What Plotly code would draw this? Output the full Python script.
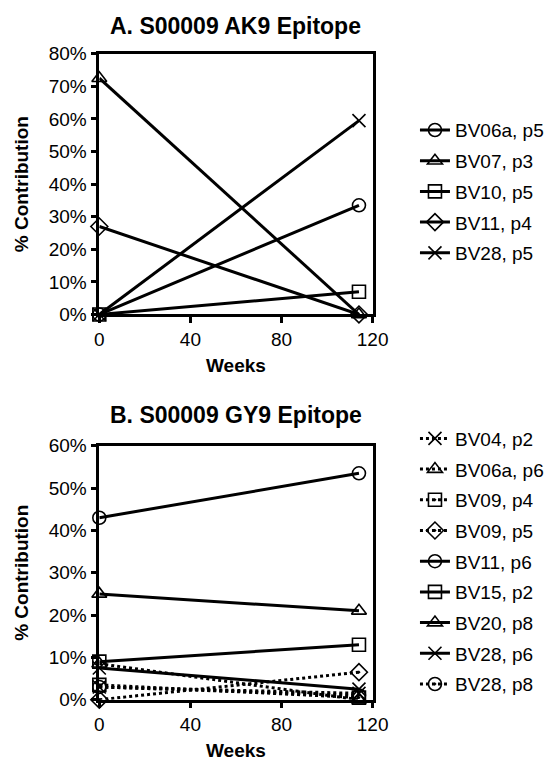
import plotly.graph_objects as go

weeks = [0, 114]

# Panel A: S00009 AK9 Epitope (% contribution)
a_names = ["BV06a, p5", "BV07, p3", "BV10, p5", "BV11, p4", "BV28, p5"]
a_values = [
    [0, 33.5],
    [72.5, 0],
    [0, 7],
    [27, 0],
    [0, 59.5],
]
a_symbols = ["circle-open", "triangle-up-open", "square-open", "diamond-open", "x-thin-open"]
a_dash = ["solid", "solid", "solid", "solid", "solid"]

# Panel B: S00009 GY9 Epitope (% contribution)
b_names = ["BV04, p2", "BV06a, p6", "BV09, p4", "BV09, p5", "BV11, p6",
           "BV15, p2", "BV20, p8", "BV28, p6", "BV28, p8"]
b_values = [
    [3, 1.5],
    [8.5, 0],
    [3.5, 0.5],
    [0, 6.5],
    [43, 53.5],
    [9, 13],
    [25, 21],
    [7.5, 2.5],
    [3, 1],
]
b_symbols = ["x-thin-open", "triangle-up-open", "square-open-dot", "diamond-open-dot", "circle-open",
             "square-open", "triangle-up-open", "x-thin-open", "circle-open-dot"]
b_dash = ["dot", "dot", "dot", "dot", "solid", "solid", "solid", "solid", "dot"]

x_ticks = [0, 40, 80, 120]
a_yticks = [0, 10, 20, 30, 40, 50, 60, 70, 80]
a_ytext = ["0%", "10%", "20%", "30%", "40%", "50%", "60%", "70%", "80%"]
b_yticks = [0, 10, 20, 30, 40, 50, 60]
b_ytext = ["0%", "10%", "20%", "30%", "40%", "50%", "60%"]

W, H = 558, 772
FONT = "Liberation Sans, Arial, sans-serif"

fig = go.Figure()

def add_series(names, values, symbols, dashes, xa, ya, legend):
    for i, (n, v, s, d) in enumerate(zip(names, values, symbols, dashes)):
        fig.add_trace(go.Scatter(
            x=weeks, y=v, name=n, mode="lines+markers",
            xaxis=xa, yaxis=ya, legend=legend, legendgroup=legend + str(i),
            line=dict(color="black", width=3, dash=d),
            marker=dict(symbol=s, size=13, color="black",
                        line=dict(color="black", width=1.6)),
            cliponaxis=False,
        ))

add_series(a_names, a_values, a_symbols, a_dash, "x", "y", "legend")
add_series(b_names, b_values, b_symbols, b_dash, "x2", "y2", "legend2")

def px_x(p):
    return p / W

def px_y(p):
    return 1 - p / H

axis_common = dict(
    showline=True, linecolor="black", linewidth=2.5, mirror=True,
    ticks="outside", ticklen=6, tickwidth=2.5, tickcolor="black",
    showgrid=False, zeroline=False,
    tickfont=dict(family=FONT, size=19, color="black"),
)

x_dom = [px_x(98), px_x(382)]
fig.update_layout(
    width=W, height=H,
    margin=dict(l=0, r=0, t=0, b=0),
    paper_bgcolor="white", plot_bgcolor="white",
    font=dict(family=FONT, color="black"),
    xaxis=dict(domain=x_dom, range=[0, 120], tickvals=x_ticks, anchor="y",
               title=dict(text="<b>Weeks</b>", font=dict(size=19), standoff=10),
               **axis_common),
    yaxis=dict(domain=[px_y(313), px_y(45)], range=[0, 80], tickvals=a_yticks,
               ticktext=a_ytext, anchor="x",
               title=dict(text="<b>% Contribution</b>", font=dict(size=19), standoff=16),
               **axis_common),
    xaxis2=dict(domain=x_dom, range=[0, 120], tickvals=x_ticks, anchor="y2",
                title=dict(text="<b>Weeks</b>", font=dict(size=19), standoff=10),
                **axis_common),
    yaxis2=dict(domain=[px_y(709), px_y(448)], range=[0, 60], tickvals=b_yticks,
                ticktext=b_ytext, anchor="x2",
                title=dict(text="<b>% Contribution</b>", font=dict(size=19), standoff=16),
                **axis_common),
    legend=dict(x=px_x(426), y=px_y(104), xanchor="left", yanchor="top",
                font=dict(family=FONT, size=19, color="black"),
                tracegroupgap=3, itemwidth=30, bgcolor="rgba(0,0,0,0)"),
    legend2=dict(x=px_x(426), y=px_y(421), xanchor="left", yanchor="top",
                 font=dict(family=FONT, size=19, color="black"),
                 tracegroupgap=3, itemwidth=30, bgcolor="rgba(0,0,0,0)"),
    showlegend=True,
    annotations=[
        dict(text="<b>A. S00009 AK9 Epitope</b>", x=px_x(240), y=px_y(16),
             xref="paper", yref="paper", showarrow=False,
             font=dict(family=FONT, size=23, color="black"), xanchor="center", yanchor="middle"),
        dict(text="<b>B. S00009 GY9 Epitope</b>", x=px_x(240), y=px_y(416),
             xref="paper", yref="paper", showarrow=False,
             font=dict(family=FONT, size=23, color="black"), xanchor="center", yanchor="middle"),
    ],
)

fig.write_html("out.html")
